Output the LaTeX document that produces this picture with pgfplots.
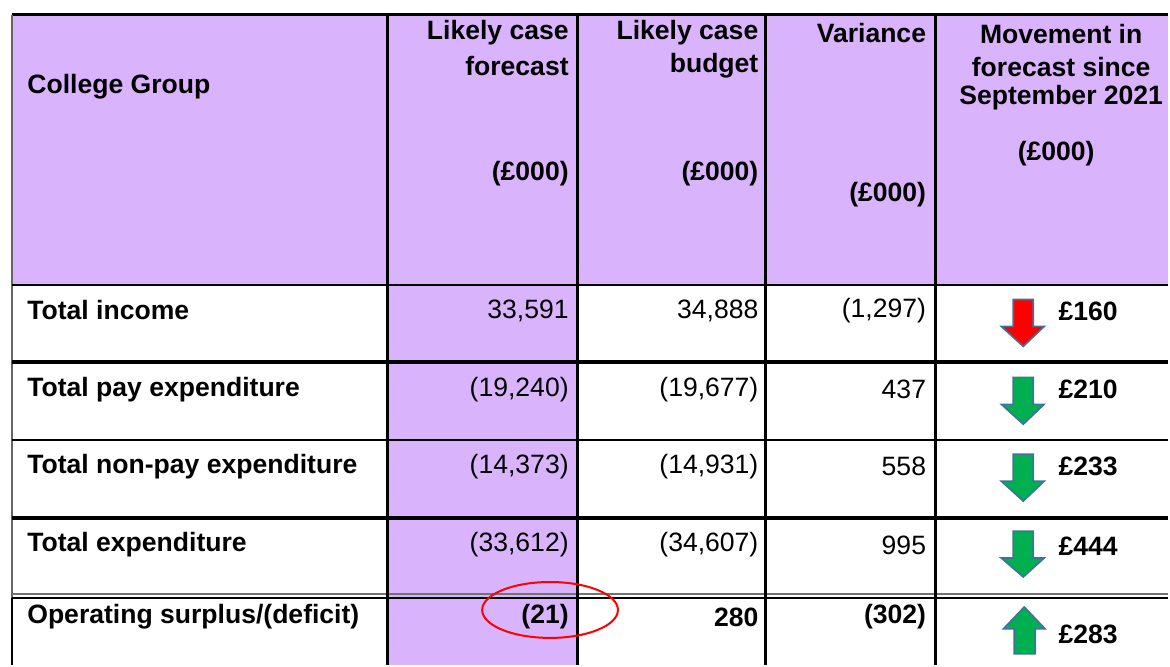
\documentclass[border=0pt]{standalone}
\usepackage{pgfplots}
\pgfplotsset{compat=1.18}
\usepackage{fontspec}
\setmainfont{Liberation Sans}
\definecolor{lav}{RGB}{218,179,253}
\definecolor{arrred}{RGB}{255,0,0}
\definecolor{arrgreen}{RGB}{0,176,80}
\definecolor{arrborder}{RGB}{65,113,156}
\begin{document}
\begin{tikzpicture}[
  t/.style={font=\fontsize{13.3}{15}\selectfont, inner sep=0pt},
  b/.style={font=\fontsize{13.3}{15}\selectfont\bfseries, inner sep=0pt}]
\begin{axis}[
  scale only axis, width=585pt, height=333pt,
  xmin=0, xmax=1170, ymin=0, ymax=666, y dir=reverse,
  axis lines=none, clip=false
]
\path (axis cs:0,0) -- (axis cs:1170,666);
% backgrounds
\fill[lav] (axis cs:12,15) rectangle (axis cs:1170,285);
\fill[lav] (axis cs:388,285) rectangle (axis cs:578,666);
% grid lines
\draw[black, line width=1.5pt] (axis cs:12,15) -- (axis cs:1170,15);
\draw[black!60, line width=0.8pt] (axis cs:12,15) -- (axis cs:12,599);
\draw[black, line width=1pt] (axis cs:12,599) -- (axis cs:12,666);
\draw[black, line width=1pt] (axis cs:12,285) -- (axis cs:1170,285);
\draw[black, line width=2pt] (axis cs:12,363) -- (axis cs:1170,363);
\draw[black, line width=1pt] (axis cs:12,441) -- (axis cs:1170,441);
\draw[black, line width=2pt] (axis cs:12,519) -- (axis cs:1170,519);
\draw[black!55, line width=0.8pt] (axis cs:12,595) -- (axis cs:1170,595);
\draw[black, line width=1pt] (axis cs:12,599.5) -- (axis cs:1170,599.5);
\draw[black, line width=1.5pt] (axis cs:388,15) -- (axis cs:388,666);
\draw[black, line width=1.5pt] (axis cs:578,15) -- (axis cs:578,666);
\draw[black, line width=1.3pt] (axis cs:767,15) -- (axis cs:767,666);
\draw[black, line width=1.5pt] (axis cs:937,15) -- (axis cs:937,666);
% header text
\node[b,anchor=west] at (axis cs:27,87) {College Group};
\node[b,anchor=east] at (axis cs:570,33) {Likely case};
\node[b,anchor=east] at (axis cs:570,66) {forecast};
\node[b,anchor=east] at (axis cs:570,174) {(£000)};
\node[b,anchor=east] at (axis cs:760,33) {Likely case};
\node[b,anchor=east] at (axis cs:760,66) {budget};
\node[b,anchor=east] at (axis cs:760,174) {(£000)};
\node[b,anchor=east] at (axis cs:928,33) {Variance};
\node[b,anchor=east] at (axis cs:928,195) {(£000)};
\node[b] at (axis cs:1063,34) {Movement in};
\node[b] at (axis cs:1063,67) {forecast since};
\node[b] at (axis cs:1063,98) {September 2021};
\node[b] at (axis cs:1058,154) {(£000)};
% row labels
\node[b,anchor=west] at (axis cs:27,311) {Total income};
\node[b,anchor=west] at (axis cs:27,390) {Total pay expenditure};
\node[b,anchor=west] at (axis cs:27,467) {Total non-pay expenditure};
\node[b,anchor=west] at (axis cs:27,546) {Total expenditure};
\node[b,anchor=west] at (axis cs:27,618) {Operating surplus/(deficit)};
% last row values
\node[b,anchor=east] at (axis cs:570,618) {(21)};
\node[b,anchor=east] at (axis cs:760,618) {280};
\node[b,anchor=east] at (axis cs:928,618) {(302)};
% movement amounts
\node[b,anchor=west] at (axis cs:1060,312) {£160};
\node[b,anchor=west] at (axis cs:1060,390) {£210};
\node[b,anchor=west] at (axis cs:1060,467) {£233};
\node[b,anchor=west] at (axis cs:1060,547) {£444};
\node[b,anchor=west] at (axis cs:1060,635) {£283};
% regular values
\node[t,anchor=east] at (axis cs:570,311) {33,591};
\node[t,anchor=east] at (axis cs:760,311) {34,888};
\node[t,anchor=east] at (axis cs:928,311) {(1,297)};
\node[t,anchor=east] at (axis cs:570,390) {(19,240)};
\node[t,anchor=east] at (axis cs:760,390) {(19,677)};
\node[t,anchor=east] at (axis cs:928,390) {437};
\node[t,anchor=east] at (axis cs:570,467) {(14,373)};
\node[t,anchor=east] at (axis cs:760,467) {(14,931)};
\node[t,anchor=east] at (axis cs:928,467) {558};
\node[t,anchor=east] at (axis cs:570,546) {(33,612)};
\node[t,anchor=east] at (axis cs:760,546) {(34,607)};
\node[t,anchor=east] at (axis cs:928,546) {995};
% arrows
\addplot[fill=arrred, draw=arrborder, line width=0.8pt] coordinates {(1015,300) (1035,300) (1035,327) (1046,327) (1025,347) (1003,327) (1015,327)} -- cycle;
\addplot[fill=arrgreen, draw=arrborder, line width=0.8pt] coordinates {(1015,378) (1035,378) (1035,405) (1046,405) (1025,425) (1003,405) (1015,405)} -- cycle;
\addplot[fill=arrgreen, draw=arrborder, line width=0.8pt] coordinates {(1015,455) (1035,455) (1035,482) (1046,482) (1025,502) (1003,482) (1015,482)} -- cycle;
\addplot[fill=arrgreen, draw=arrborder, line width=0.8pt] coordinates {(1015,532) (1035,532) (1035,559) (1046,559) (1025,578) (1003,559) (1015,559)} -- cycle;
\addplot[fill=arrgreen, draw=arrborder, line width=0.8pt] coordinates {(1016,655) (1037,655) (1037,630) (1047,630) (1026,608) (1005,630) (1016,630)} -- cycle;
% red ellipse
\draw[red, line width=1pt] (axis cs:551,611) ellipse [x radius=34pt, y radius=14pt];
\end{axis}
\end{tikzpicture}
\end{document}
